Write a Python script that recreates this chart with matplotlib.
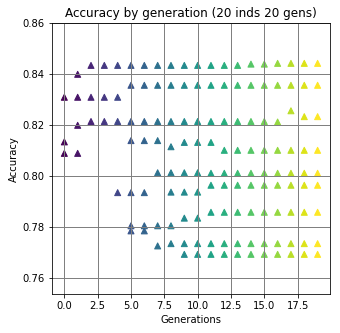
import matplotlib
matplotlib.use("Agg")
import matplotlib.pyplot as plt

# accuracy of individuals per generation (overlapping duplicates dropped)
acc_g0 = [0.831, 0.8135, 0.809]
acc_g1 = [0.840, 0.831, 0.820, 0.809]
acc_g2 = [0.8435, 0.831, 0.8215]
acc_g3 = [0.8435, 0.831, 0.8215]
acc_g4 = [0.8435, 0.831, 0.8215, 0.7936]
acc_g5 = [0.8435, 0.8357, 0.8215, 0.814, 0.7936, 0.7806, 0.7786]
acc_g6 = [0.8435, 0.8357, 0.8215, 0.814, 0.7936, 0.7806, 0.7786]
acc_g7 = [0.8435, 0.8357, 0.8215, 0.814, 0.8014, 0.7806, 0.7727]
acc_g8 = [0.8435, 0.8357, 0.8215, 0.8116, 0.8014, 0.7938, 0.7806, 0.7736]
acc_g9 = [0.8435, 0.8357, 0.8215, 0.8133, 0.8014, 0.7938, 0.7836, 0.7736, 0.7694]
acc_g10 = [0.8435, 0.8357, 0.8215, 0.8133, 0.8014, 0.7938, 0.7836, 0.7736, 0.7694]
acc_g11 = [0.8435, 0.8357, 0.8215, 0.8133, 0.8012, 0.7965, 0.7859, 0.7736, 0.7694]
acc_g12 = [0.8435, 0.8357, 0.8215, 0.8102, 0.8012, 0.7965, 0.7859, 0.7736, 0.7694]
acc_g13 = [0.8435, 0.8357, 0.8215, 0.8102, 0.8012, 0.7965, 0.7859, 0.7736, 0.7694]
acc_g14 = [0.844, 0.8357, 0.8215, 0.8102, 0.8012, 0.7965, 0.7859, 0.7736, 0.7694]
acc_g15 = [0.844, 0.8357, 0.8215, 0.8102, 0.8012, 0.7965, 0.7859, 0.7736, 0.7694]
acc_g16 = [0.8443, 0.8357, 0.8213, 0.8102, 0.8012, 0.7965, 0.7859, 0.7736, 0.7694]
acc_g17 = [0.8443, 0.8357, 0.8257, 0.8102, 0.8012, 0.7965, 0.7859, 0.7736, 0.7694]
acc_g18 = [0.8443, 0.8357, 0.8234, 0.8102, 0.8012, 0.7965, 0.7859, 0.7736, 0.7694]
acc_g19 = [0.8443, 0.8357, 0.8234, 0.8102, 0.8012, 0.7965, 0.7859, 0.7736, 0.7694]

all_gens = [acc_g0, acc_g1, acc_g2, acc_g3, acc_g4, acc_g5, acc_g6, acc_g7,
            acc_g8, acc_g9, acc_g10, acc_g11, acc_g12, acc_g13, acc_g14,
            acc_g15, acc_g16, acc_g17, acc_g18, acc_g19]

xs = []
ys = []
for g, accs in enumerate(all_gens):
    for a in accs:
        xs.append(g)
        ys.append(a)

fig = plt.figure(figsize=(340 / 72, 333 / 72), dpi=72)
ax = fig.add_axes([0.152, 0.116, 0.8194, 0.814])
ax.scatter(xs, ys, c=xs, cmap='viridis', marker='^')
ax.grid(color='gray', linewidth=1)
ax.set_ylim(0.7537, 0.86)
ax.set_title("Accuracy by generation (20 inds 20 gens)")
ax.set_xlabel("Generations")
ax.set_ylabel("Accuracy")

fig.savefig("out.png", dpi=72)
